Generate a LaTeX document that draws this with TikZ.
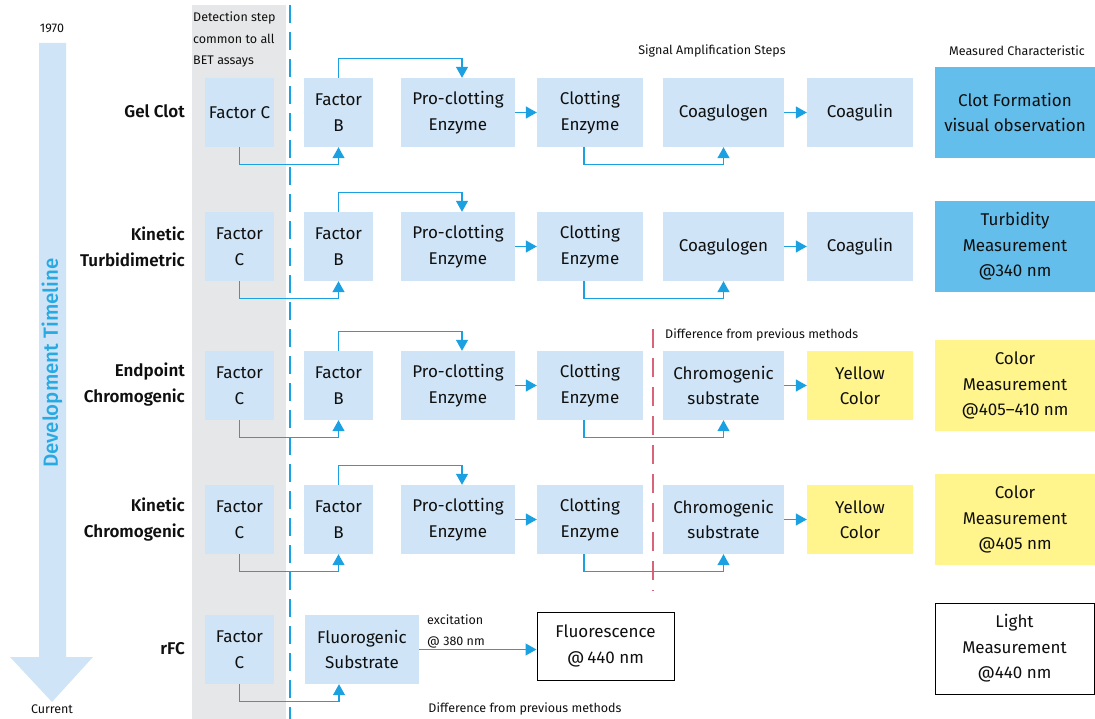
\documentclass[tikz,border=0pt]{standalone}
\usepackage{fontspec}
\setmainfont{Fira Sans}[BoldFont={Fira Sans SemiBold}]
\newfontfamily\medfont{Fira Sans Medium}
\usetikzlibrary{arrows.meta}
\definecolor{lb}{RGB}{207,228,246}
\definecolor{mb}{RGB}{99,190,235}
\definecolor{yl}{RGB}{255,245,140}
\definecolor{ab}{RGB}{27,161,226}
\definecolor{tb}{RGB}{41,169,225}
\definecolor{gb}{RGB}{230,231,232}
\definecolor{rd}{RGB}{217,100,122}
\definecolor{tx}{RGB}{15,15,15}
\begin{document}
\begin{tikzpicture}[x=1pt,y=-1pt,
  box/.style={fill=lb, inner sep=0pt, align=center, text=tx, font=\fontsize{17}{25.5}\selectfont},
  sq/.style={box, minimum width=69, minimum height=69},
  pro/.style={box, minimum width=114, minimum height=69},
  clo/.style={box, minimum width=106, minimum height=69},
  cog/.style={box, minimum width=121, minimum height=69},
  cul/.style={box, minimum width=106, minimum height=69},
  meas/.style={box, minimum width=160, minimum height=91},
  lab/.style={anchor=east, align=right, text=tx, inner sep=0pt, font=\fontsize{17}{26}\selectfont\bfseries},
  small/.style={text=tx, inner sep=0pt, font=\fontsize{12.5}{21.5}\selectfont},
  conn/.style={draw=ab, line width=1.2pt, -{Triangle[length=11pt,width=12pt]}},
]
\useasboundingbox (0,0) rectangle (1095,719);

% background band and dividers
\fill[gb] (192,5) rectangle (286,719);
\coordinate (dt) at (290,5);
\coordinate (db) at (290,719);
\draw[ab, line width=1.2pt, dash pattern=on 18pt off 9pt] (dt) -- (db);
\coordinate (rt) at (653,329);
\coordinate (rb) at (653,591);
\draw[rd, line width=1.2pt, dash pattern=on 19pt off 10pt] (rt) -- (rb);

% timeline arrow
\fill[lb] (39,43) -- (66,43) -- (66,657) -- (93,657) -- (52,702) -- (10,657) -- (39,657) -- cycle;
\node[small] (y1970) at (52,28) {1970};
\node[small] (ycur) at (52,709) {Current};
\node[rotate=90, text=tb, inner sep=0pt, font=\medfont\fontsize{20.5}{24}\selectfont] (tl) at (52,363) {Development Timeline};

% headers
\node[small, anchor=west, align=left] (hdet) at (193,39.5) {Detection step\\common to all\\BET assays};
\node[small] (hsig) at (712,51) {Signal Amplification Steps};
\node[small] (hmeas) at (1017,51) {Measured Characteristic};

% row 1: Gel Clot
\node[lab] (l1) at (185,111) {Gel Clot};
\node[sq, minimum width=69] (c1) at (239.5,112.5) {Factor C};
\node[sq] (b1) at (338.5,112.5) {Factor\\B};
\node[pro] (p1) at (458,112.5) {Pro-clotting\\Enzyme};
\node[clo] (e1) at (590,112.5) {Clotting\\Enzyme};
\node[cog] (g1) at (723.5,112.5) {Coagulogen};
\node[cul] (n1) at (860,112.5) {Coagulin};
\node[meas, fill=mb] (m1) at (1015,112.5) {Clot Formation\\visual observation};

% row 2: Kinetic Turbidimetric
\node[lab] (l2) at (185,247) {Kinetic\\Turbidimetric};
\node[sq] (c2) at (239.5,246.5) {Factor\\C};
\node[sq] (b2) at (338.5,246.5) {Factor\\B};
\node[pro] (p2) at (458,246.5) {Pro-clotting\\Enzyme};
\node[clo] (e2) at (590,246.5) {Clotting\\Enzyme};
\node[cog] (g2) at (723.5,246.5) {Coagulogen};
\node[cul] (n2) at (860,246.5) {Coagulin};
\node[meas, fill=mb] (m2) at (1015,246.5) {Turbidity\\Measurement\\@340 nm};

% row 3: Endpoint Chromogenic
\node[lab] (l3) at (185,385) {Endpoint\\Chromogenic};
\node[sq] (c3) at (239.5,385.5) {Factor\\C};
\node[sq] (b3) at (338.5,385.5) {Factor\\B};
\node[pro] (p3) at (458,385.5) {Pro-clotting\\Enzyme};
\node[clo] (e3) at (590,385.5) {Clotting\\Enzyme};
\node[cog] (g3) at (723.5,385.5) {Chromogenic\\substrate};
\node[cul, fill=yl] (n3) at (860,385.5) {Yellow\\Color};
\node[meas, fill=yl] (m3) at (1015,385.5) {Color\\Measurement\\@405–410 nm};
\node[small, anchor=west] (d3) at (665,335) {Difference from previous methods};

% row 4: Kinetic Chromogenic
\node[lab] (l4) at (185,520) {Kinetic\\Chromogenic};
\node[sq] (c4) at (239.5,519.5) {Factor\\C};
\node[sq] (b4) at (338.5,519.5) {Factor\\B};
\node[pro] (p4) at (458,519.5) {Pro-clotting\\Enzyme};
\node[clo] (e4) at (590,519.5) {Clotting\\Enzyme};
\node[cog] (g4) at (723.5,519.5) {Chromogenic\\substrate};
\node[cul, fill=yl] (n4) at (860,519.5) {Yellow\\Color};
\node[meas, fill=yl] (m4) at (1015,519.5) {Color\\Measurement\\@405 nm};

% row 5: rFC
\node[lab] (l5) at (185,649) {rFC};
\node[sq] (c5) at (239.5,649.5) {Factor\\C};
\node[box, minimum width=114, minimum height=69] (f5) at (362,649.5) {Fluorogenic\\Substrate};
\node[box, fill=white, draw=black, line width=1pt, minimum width=137, minimum height=68] (s5) at (605.5,646) {Fluorescence\\@\,440 nm};
\node[box, fill=white, draw=black, line width=1pt, minimum width=159, minimum height=91] (m5) at (1014.5,648.5) {Light\\Measurement\\@440 nm};
\node[small, anchor=west, align=left] (x5) at (427,631.5) {excitation\\@ 380 nm};
\node[small] (d5) at (525,709) {Difference from previous methods};

% connectors rows 1-4
\foreach \r in {1,2,3,4}{
  \draw[conn] (c\r.south) -- ++(0,17) -| (b\r.south);
  \draw[conn] (b\r.north) -- ++(0,-19) -| ([xshift=4pt]p\r.north);
  \draw[conn] (p\r.east) -- (e\r.west);
  \draw[conn] ([xshift=-6pt]e\r.south) -- ++(0,17) -| (g\r.south);
  \draw[conn] (g\r.east) -- (n\r.west);
}
% row 5 connectors
\draw[conn] (c5.south) -- ++(0,17.5) -| ([xshift=-23pt]f5.south);
\draw[conn] (f5.east) -- (f5.east -| s5.west);
\end{tikzpicture}
\end{document}
